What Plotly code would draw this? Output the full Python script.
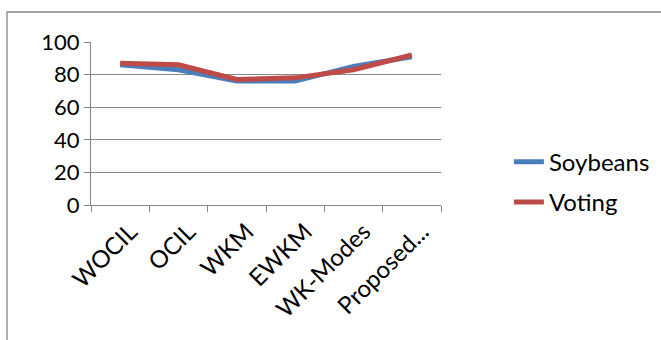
import plotly.graph_objects as go

categories = ["WOCIL", "OCIL", "WKM", "EWKM", "WK-Modes", "Proposed..."]
soybeans = [86, 83, 76, 76, 85, 91]
voting = [87, 86, 77, 78, 83, 92]
y_ticks = [0, 20, 40, 60, 80, 100]

FONT = "Lato"
GRAY = "#878787"
fig = go.Figure()
fig.add_trace(go.Scatter(x=categories, y=soybeans, name="Soybeans", mode="lines",
                         line=dict(color="#4A7EBB", width=5), legendgroup="a"))
fig.add_trace(go.Scatter(x=categories, y=voting, name="Voting", mode="lines",
                         line=dict(color="#BE4B48", width=5), legendgroup="b"))

fig.update_layout(
    width=661, height=340,
    margin=dict(l=91, r=220, t=42, b=135, autoexpand=False),
    paper_bgcolor="white", plot_bgcolor="white",
    font=dict(family=FONT, size=21, color="black"),
    showlegend=True,
    legend=dict(x=1.194, y=0.14, xanchor="left", yanchor="middle",
                font=dict(family=FONT, size=24, color="black"),
                tracegroupgap=6, traceorder="grouped",
                bgcolor="rgba(0,0,0,0)"),
    xaxis=dict(type="category", range=[-0.5, 5.5], tickangle=-45, automargin=False,
               showline=True, linecolor=GRAY, linewidth=1.3,
               ticks="outside", tickson="boundaries", ticklen=6, tickcolor=GRAY,
               ticklabelstandoff=2, ticklabelshift=10,
               showgrid=False, tickfont=dict(family=FONT, size=24)),
    yaxis=dict(range=[0, 100], tickvals=y_ticks, showline=True, linecolor=GRAY,
               linewidth=1.3, ticks="outside", ticklen=6, tickcolor=GRAY, automargin=False,
               showgrid=True, gridcolor=GRAY, gridwidth=1.3, zeroline=False,
               tickfont=dict(family=FONT, size=22)),
    shapes=[dict(type="rect", xref="paper", yref="paper",
                 x0=(7 - 91) / 350, x1=(700 - 91) / 350,
                 y0=-1.0, y1=1 + 30 / 163,
                 line=dict(color=GRAY, width=1.3), fillcolor="rgba(0,0,0,0)",
                 layer="below")],
)

fig.write_html("out.html", config={"displayModeBar": False},
               post_script="document.body.style.margin='0';document.body.style.overflow='hidden';")
